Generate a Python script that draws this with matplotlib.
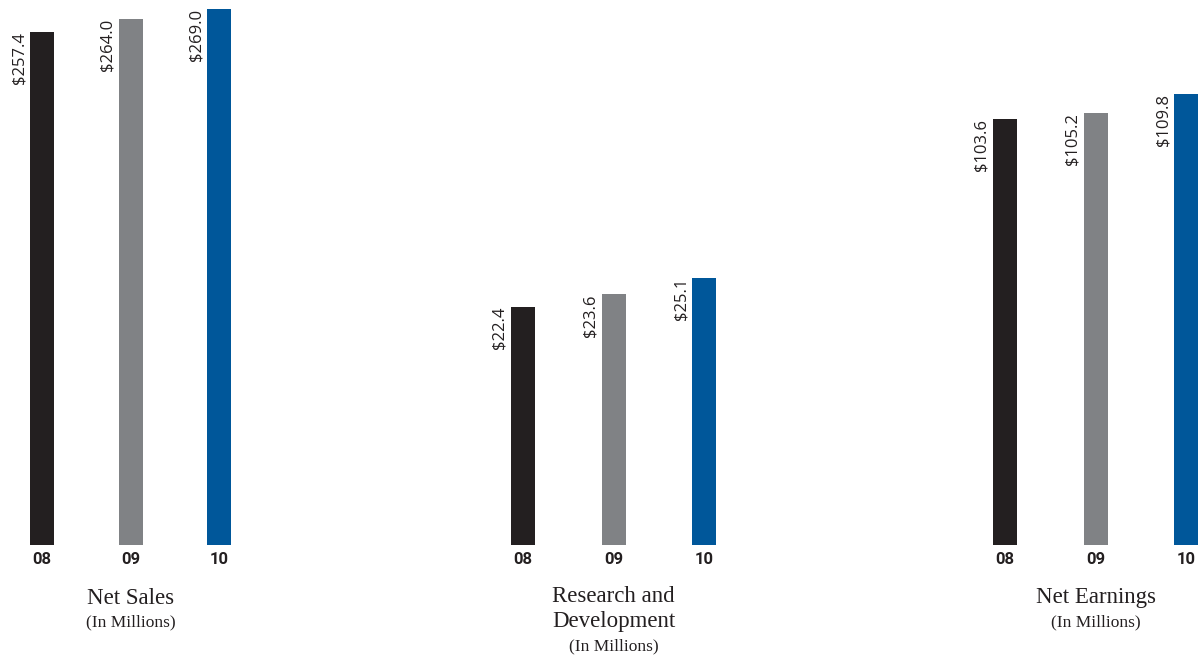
import matplotlib
matplotlib.use("Agg")
import matplotlib.pyplot as plt
from matplotlib import font_manager

# ---- data ----
years = ["08", "09", "10"]
net_sales = [257.4, 264.0, 269.0]
research_dev = [22.4, 23.6, 25.1]
net_earnings = [103.6, 105.2, 109.8]
titles = [["Net Sales", "(In Millions)"],
          ["Research and", "Development", "(In Millions)"],
          ["Net Earnings", "(In Millions)"]]
bar_colors = ["#231f20", "#808285", "#00579a"]

W, H = 1201, 656
fig = plt.figure(figsize=(W / 100, H / 100), dpi=100)

avail = {f.name for f in font_manager.fontManager.ttflist}
label_font = "Open Sans" if "Open Sans" in avail else "DejaVu Sans"
year_font = "Liberation Sans Narrow" if "Liberation Sans Narrow" in avail else "Roboto"
title_font = "Liberation Serif"

baseline_px = 545
top_px = 9
# each panel: series, first bar centre (px), bar spacing (px), value mapped to full axis height
panels = [
    (net_sales, 42, 88.5, 269.0),
    (research_dev, 523, 90.5, 50.4),
    (net_earnings, 1005, 90.5, 130.5),
]
bar_w_px = 24

for (values, c0, step, ytop), title_lines in zip(panels, titles):
    left_px = c0 - 0.55 * step
    right_px = c0 + 2.55 * step
    ax = fig.add_axes([left_px / W, (H - baseline_px) / H,
                       (right_px - left_px) / W, (baseline_px - top_px) / H])
    ax.set_xlim(-0.55, 2.55)
    ax.set_ylim(0, ytop)
    bw = bar_w_px / step
    x = list(range(len(values)))
    ax.bar(x, values, width=bw, color=bar_colors, edgecolor="none")
    for xi, v in zip(x, values):
        ax.annotate(f"${v:.1f}", xy=(xi - bw / 2, v), xytext=(-3, 0),
                    textcoords="offset pixels", rotation=90,
                    ha="right", va="top", fontsize=12,
                    family=label_font, color="#231f20")
    ax.set_xticks(x)
    ax.set_xticklabels(years, fontsize=12, fontweight="bold",
                       family=year_font, color="#231f20")
    ax.tick_params(axis="x", length=0, pad=5)
    ax.set_yticks([])
    for s in ax.spines.values():
        s.set_visible(False)
    ax.patch.set_alpha(0)

    offsets = [-53, -77] if len(title_lines) == 2 else [-52, -76, -101]
    for line, off in zip(title_lines, offsets):
        small = line.startswith("(")
        ax.annotate(line, xy=(1, 0), xycoords=ax.get_xaxis_transform(),
                    xytext=(0, off), textcoords="offset pixels",
                    ha="center", va="center",
                    fontsize=12.5 if small else 16.5,
                    family=title_font, color="#231f20",
                    annotation_clip=False)

fig.savefig("out.png", dpi=100)
